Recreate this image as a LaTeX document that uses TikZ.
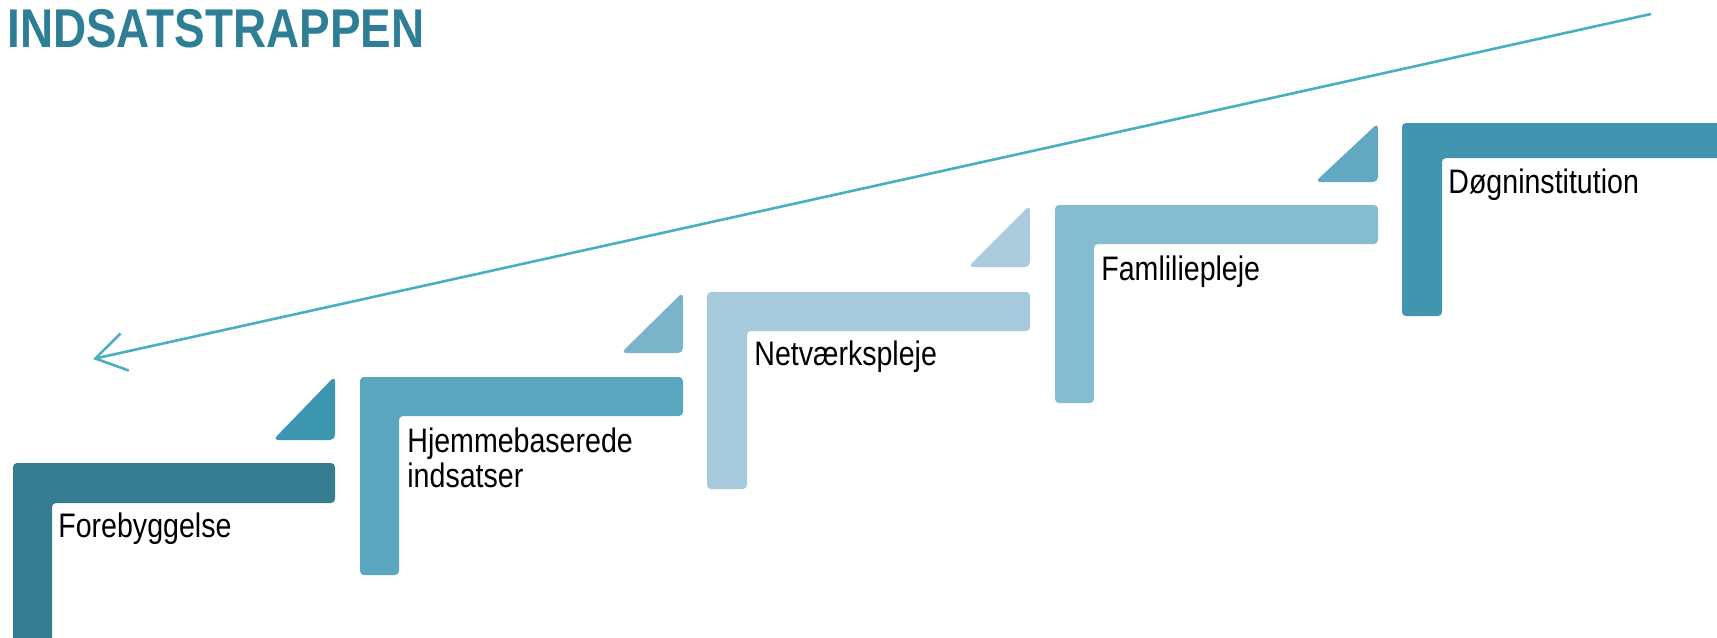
\documentclass[tikz,border=0pt]{standalone}
\usepackage{fontspec}
\usepackage{graphicx}
\setmainfont{Liberation Sans}
\definecolor{titlecol}{HTML}{2E7F96}
\definecolor{arrowcol}{HTML}{4AAEC3}
\definecolor{stepA}{HTML}{357C91}
\definecolor{stepB}{HTML}{5BA7BF}
\definecolor{stepC}{HTML}{A6C9DB}
\definecolor{stepD}{HTML}{86BCCF}
\definecolor{stepE}{HTML}{4195AE}
\definecolor{triA}{HTML}{3D96B0}
\definecolor{triB}{HTML}{7AB4C9}
\definecolor{triC}{HTML}{AACCDC}
\definecolor{triD}{HTML}{62A8C0}
\tikzset{
  stepshape/.style={rounded corners=2pt},
  tribox/.style={rounded corners=2.5pt},
  steplabel/.style={anchor=base west, inner sep=0pt, text=black, font=\fontsize{17}{17.5}\selectfont},
  arrowline/.style={draw=arrowcol, line width=1.3pt, -{Straight Barb[length=15pt,width=19pt,line width=1.3pt]}}
}
\usetikzlibrary{arrows.meta}
\begin{document}
\begin{tikzpicture}[x=0.5pt,y=-0.5pt]
\useasboundingbox (0,0) rectangle (1717,637);
% title
\node[anchor=base west, inner sep=0pt, text=titlecol, font=\fontsize{27.3}{30}\selectfont\bfseries] (title) at (7,47) {\scalebox{0.84}[1]{INDSATSTRAPPEN}};
% arrow
\coordinate (arrS) at (1651,14);
\coordinate (arrE) at (93,359);
\draw[arrowline] (arrS) -- (arrE);
% step 1
\fill[stepA, stepshape] (13,463) -- (335,463) -- (335,503) -- (52,503) -- (52,660) -- (13,660) -- cycle;
\fill[triA, tribox] (273,440) -- (335,440) -- (335,376) -- cycle;
% step 2
\fill[stepB, stepshape] (360,377) -- (683,377) -- (683,416) -- (399,416) -- (399,575) -- (360,575) -- cycle;
\fill[triB, tribox] (621,353) -- (683,353) -- (683,292) -- cycle;
% step 3
\fill[stepC, stepshape] (707,292) -- (1030,292) -- (1030,331) -- (747,331) -- (747,489) -- (707,489) -- cycle;
\fill[triC, tribox] (968,267) -- (1030,267) -- (1030,205) -- cycle;
% step 4
\fill[stepD, stepshape] (1055,205) -- (1378,205) -- (1378,244) -- (1094,244) -- (1094,403) -- (1055,403) -- cycle;
\fill[triD, tribox] (1315,182) -- (1378,182) -- (1378,123) -- cycle;
% step 5
\fill[stepE, stepshape] (1402,123) -- (1740,123) -- (1740,158) -- (1442,158) -- (1442,316) -- (1402,316) -- cycle;
% labels
\node[steplabel] (l1) at (58,537) {\scalebox{0.84}[1]{Forebyggelse}};
\node[steplabel] (l2) at (407,452) {\scalebox{0.84}[1]{\begin{tabular}[t]{@{}l@{}}Hjemmebaserede\\indsatser\end{tabular}}};
\node[steplabel] (l3) at (754,365) {\scalebox{0.84}[1]{Netværkspleje}};
\node[steplabel] (l4) at (1101,280) {\scalebox{0.84}[1]{Famliliepleje}};
\node[steplabel] (l5) at (1448,193) {\scalebox{0.84}[1]{Døgninstitution}};
\end{tikzpicture}
\end{document}
